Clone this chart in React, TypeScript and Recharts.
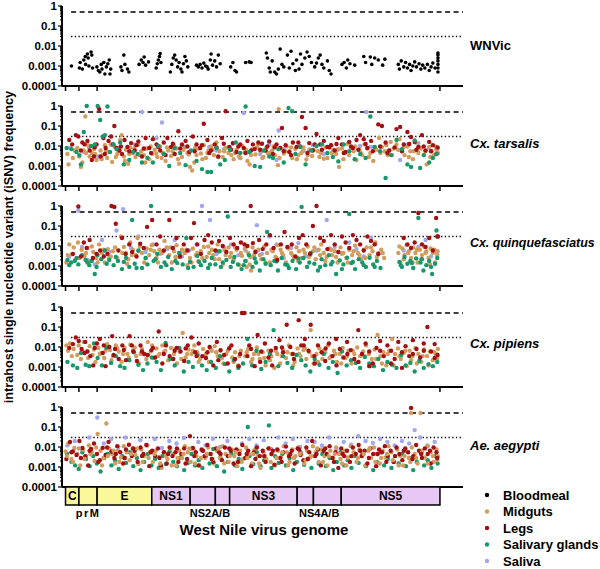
import React from 'react';
import { ScatterChart, Scatter, XAxis, YAxis, ReferenceLine, ReferenceArea } from 'recharts';

// each point: [genome position (nt), iSNV frequency]
type Pt = [number, number];

const genomeLength = 11029;
const geneBounds = [97, 465, 966, 2469, 3525, 4218, 4611, 6468, 6915, 7680, 10395];
const boxLabels = ['C', '', 'E', 'NS1', '', '', 'NS3', '', '', 'NS5'];
const boxColors = ['#fbf89b', '#fbf89b', '#fbf89b', '#e7c8f5', '#e7c8f5', '#e7c8f5', '#e7c8f5', '#e7c8f5', '#e7c8f5', '#e7c8f5'];
const underLabels = ['prM', 'NS2A/B', 'NS4A/B'];
const underFrom = [465, 3525, 6468];
const underTo = [966, 4611, 7680];

const yMajor = [0.0001, 0.001, 0.01, 0.1, 1];
const yTicks = yMajor.slice(0, 4).flatMap((m) => [1, 2, 3, 4, 5, 6, 7, 8, 9].map((k) => k * m)).concat([1]);

const seriesNames = ['Bloodmeal', 'Midguts', 'Legs', 'Salivary glands', 'Saliva'];
const seriesColors = ['#000000', '#d39c5f', '#a30f12', '#17986b', '#a2a8ef'];
const panelNames = ['WNVic', 'Cx. tarsalis', 'Cx. quinquefasciatus', 'Cx. pipiens', 'Ae. aegypti'];

const wnvicBloodmeal: Pt[] = [
  [260,0.001],[480,0.0008],[500,0.0015],[560,0.0007],[600,0.002],[640,0.003],[650,0.0012],[700,0.004],[720,0.0025],[740,0.001],[800,0.005],[820,0.0035],[840,0.0008],
  [960,0.0009],[1000,0.0006],[1040,0.0005],[1080,0.0012],[1100,0.0007],[1150,0.0015],[1180,0.0004],[1220,0.0009],[1260,0.0013],[1300,0.002],[1320,0.0004],[1340,0.0007],
  [1620,0.0009],[1650,0.0006],[1700,0.0035],[1730,0.0012],[1800,0.0007],[1840,0.0005],
  [2120,0.0012],[2180,0.002],[2230,0.0015],[2260,0.0028],[2300,0.0011],[2380,0.0016],
  [2590,0.0008],[2620,0.0013],[2650,0.002],[2680,0.003],[2700,0.0042],[2720,0.0015],
  [2980,0.0005],[3020,0.0012],[3060,0.0025],[3100,0.0035],[3140,0.002],[3180,0.0009],[3220,0.0015],[3270,0.0007],[3300,0.0005],[3340,0.0013],[3380,0.003],[3420,0.0018],[3460,0.0009],
  [3700,0.0011],[3750,0.0009],[3800,0.0012],[3850,0.0008],[3900,0.0014],[3950,0.001],[3990,0.0009],[4020,0.0007],[4080,0.002],[4100,0.004],[4140,0.0011],[4200,0.0018],[4250,0.0009],[4300,0.0035],[4350,0.0013],
  [4640,0.0009],[4700,0.0015],[4760,0.0006],[4800,0.0005],
  [5050,0.0015],[5150,0.0016],[5200,0.0015],
  [5620,0.0045],[5650,0.0025],[5700,0.0008],[5730,0.0005],[5780,0.0018],[5850,0.0005],[5900,0.0004],[5950,0.0007],[6000,0.007],[6050,0.0012],[6100,0.0009],[6200,0.0035],[6250,0.0008],[6300,0.0055],[6350,0.0013],[6420,0.0006],[6450,0.002],
  [6520,0.0007],[6560,0.004],[6600,0.0012],[6680,0.0025],[6740,0.005],[6800,0.003],[6860,0.0015],[6950,0.0009],[7000,0.0014],[7050,0.0025],[7100,0.0035],[7150,0.0012],[7200,0.0008],[7300,0.0018],[7350,0.0006],[7400,0.0004],
  [7700,0.0012],[7760,0.0015],[7820,0.0008],[7860,0.002],[7920,0.0013],[8050,0.0011],
  [8300,0.003],[8350,0.0015],[8480,0.0028],[8520,0.0012],[8600,0.0025],[8700,0.002],[8820,0.0011],[8880,0.0022],
  [9250,0.0012],[9280,0.0007],[9330,0.0018],[9400,0.0009],[9450,0.0015],[9500,0.0008],[9560,0.0012],[9600,0.0006],[9650,0.001],[9700,0.0016],[9750,0.0009],[9820,0.0013],[9870,0.0007],[9920,0.0011],[9980,0.0008],[10050,0.0012],[10100,0.0006],[10150,0.0009],[10200,0.0014],[10260,0.0008],
  [10340,0.0005],[10340,0.0008],[10340,0.0012],[10340,0.0018],[10340,0.0025],[10340,0.0035],[10340,0.0045],
];

const tarsalisMidguts: Pt[] = [
  [150,0.004],[300,0.0025],[420,0.008],[520,0.0009],[560,0.0015],[600,0.006],[640,0.3],[700,0.012],[760,0.003],[820,0.0045],[880,0.007],[950,0.002],[1000,0.9],[1060,0.006],[1120,0.0035],[1180,0.011],[1240,0.0025],[1300,0.005],[1380,0.0016],[1450,0.009],[1520,0.004],[1600,0.02],[1640,0.035],[1700,0.003],[1760,0.0065],[1820,0.0013],[1880,0.0085],[1950,0.0045],[2020,0.0028],[2100,0.012],[2180,0.0055],[2250,0.0035],[2320,0.0075],[2400,0.0022],[2480,0.004],[2550,0.0065],[2620,0.0028],[2700,0.0095],[2780,0.0045],[2850,0.0018],[2920,0.006],[3000,0.0032],[3080,0.011],[3150,0.0075],[3220,0.0013],[3300,0.0028],[3380,0.009],[3450,0.0045],[3520,0.0009],[3580,0.0006],[3640,0.0015],[3700,0.0035],[3760,0.0075],[3820,0.0042],[3900,0.011],[3960,0.0025],[4030,0.006],[4100,0.0095],[4180,0.0035],[4250,0.015],[4330,0.0055],[4420,0.0028],[4500,0.008],[4580,0.0045],[4660,0.0035],[4720,0.0022],[4800,0.0065],[4870,0.003],[4950,0.0105],[5020,0.0048],[5100,0.0018],[5160,0.0012],[5240,0.007],[5320,0.0038],[5400,0.012],[5470,0.0055],[5540,0.0028],[5620,0.0085],[5700,0.0045],[5780,0.006],[5860,0.0035],[5940,0.0011],[5960,0.7],[6020,0.0075],[6100,0.0042],[6180,0.0095],[6260,0.0055],[6330,0.0025],[6420,0.007],[6500,0.0035],[6580,0.0045],[6640,0.0085],[6720,0.0021],[6800,0.0065],[6880,0.0032],[6960,0.0115],[7040,0.0055],[7120,0.0045],[7200,0.0023],[7300,0.0025],[7400,0.011],[7460,0.0065],[7540,0.004],[7620,0.0009],[7700,0.0075],[7780,0.0045],[7860,0.013],[7950,0.0085],[8020,0.0055],[8100,0.002],[8180,0.0065],[8260,0.0035],[8320,0.012],[8400,0.0075],[8480,0.0045],[8560,0.0018],[8640,0.0065],[8720,0.025],[8800,0.009],[8880,0.0055],[8960,0.0035],[9040,0.016],[9120,0.0075],[9200,0.012],[9280,0.022],[9350,0.006],[9420,0.0035],[9500,0.0095],[9580,0.0055],[9650,0.0022],[9720,0.015],[9800,0.0045],[9870,0.0075],[9950,0.0035],[10030,0.0012],[10100,0.009],[10160,0.0055],[10230,0.0035],[10300,0.0065],[10340,0.0045],
];
const tarsalisMoreMidguts: Pt[] = [
  [180,0.0012],[350,0.006],[470,0.003],[660,0.0045],[740,0.009],[910,0.004],[1090,0.0022],[1210,0.006],[1340,0.012],[1480,0.0028],[1560,0.0055],[1730,0.0018],[1850,0.004],[1990,0.0075],[2140,0.0035],[2290,0.0015],[2440,0.0095],[2590,0.0042],[2740,0.0025],[2890,0.0085],[3040,0.0055],[3190,0.0022],[3340,0.0065],[3490,0.0038],[3670,0.0085],[3860,0.0022],[4000,0.0045],[4140,0.0065],[4290,0.0028],[4460,0.0055],[4620,0.0085],[4760,0.0045],[4910,0.0025],[5060,0.0065],[5200,0.0035],[5360,0.0085],[5510,0.0025],[5660,0.0045],[5820,0.0095],[5980,0.0025],[6140,0.0055],[6300,0.0085],[6460,0.0022],[6620,0.0055],[6760,0.0035],[6920,0.0065],[7080,0.0028],[7250,0.0085],[7420,0.0045],[7580,0.0065],[7740,0.0022],[7900,0.0035],[8060,0.0095],[8220,0.0045],[8440,0.0028],[8600,0.0085],[8760,0.0045],[8920,0.011],[9080,0.0035],[9240,0.0065],[9390,0.0085],[9540,0.0028],[9680,0.0055],[9840,0.0085],[9990,0.0055],[10130,0.0028],[10270,0.0095],[10330,0.0075],
];
const tarsalisLegs: Pt[] = [
  [200,0.02],[380,0.035],[450,0.03],[560,0.015],[620,0.012],[700,0.018],[760,0.006],[820,0.002],[880,0.003],[950,0.012],[1020,0.7],[1060,0.003],[1140,0.025],[1200,0.008],[1280,0.018],[1350,0.03],[1440,0.1],[1500,0.008],[1580,0.006],[1650,0.004],[1720,0.02],[1800,0.009],[1900,0.014],[2000,0.006],[2100,0.017],[2200,0.003],[2300,0.025],[2400,0.008],[2500,0.022],[2600,0.012],[2700,0.006],[2800,0.015],[2900,0.025],[3000,0.009],[3100,0.004],[3200,0.055],[3300,0.012],[3400,0.018],[3500,0.005],[3600,0.03],[3700,0.012],[3800,0.008],[3900,0.13],[4000,0.02],[4100,0.006],[4200,0.012],[4300,0.003],[4400,0.025],[4500,0.55],[4600,0.009],[4700,0.014],[4800,0.005],[4900,0.012],[5000,0.008],[5100,0.018],[5200,0.006],[5300,0.007],[5400,0.015],[5500,0.013],[5600,0.006],[5700,0.017],[5800,0.004],[5900,0.012],[6000,0.008],[6050,0.08],[6150,0.011],[6250,0.005],[6350,0.015],[6450,0.009],[6500,0.015],[6600,0.28],[6700,0.08],[6800,0.014],[6900,0.006],[7000,0.04],[7100,0.012],[7200,0.018],[7300,0.009],[7400,0.011],[7500,0.006],[7600,0.025],[7700,0.012],[7800,0.005],[7900,0.016],[8000,0.008],[8100,0.02],[8200,0.035],[8300,0.022],[8400,0.008],[8500,0.018],[8700,0.12],[8800,0.1],[8900,0.015],[9000,0.006],[9200,0.07],[9300,0.09],[9400,0.012],[9500,0.05],[9600,0.028],[9700,0.016],[9800,0.009],[9900,0.035],[10000,0.006],[10100,0.016],[10200,0.011],[10300,0.004],
];
const tarsalisMoreLegs: Pt[] = [
  [280,0.012],[520,0.006],[900,0.0085],[1180,0.004],[1400,0.012],[1620,0.0095],[1850,0.0055],[2050,0.011],[2250,0.0075],[2450,0.0045],[2650,0.009],[2850,0.0035],[3050,0.013],[3250,0.0075],[3450,0.0095],[3650,0.0055],[3850,0.011],[4050,0.0045],[4250,0.0085],[4450,0.013],[4650,0.0065],[4850,0.0095],[5050,0.0045],[5250,0.012],[5450,0.0065],[5650,0.0095],[5850,0.0085],[6100,0.0055],[6300,0.0035],[6550,0.0095],[6750,0.0045],[6950,0.012],[7150,0.0065],[7350,0.0085],[7550,0.0125],[7750,0.0045],[7950,0.0095],[8150,0.0065],[8350,0.0125],[8550,0.0055],[8750,0.0095],[8950,0.0045],[9150,0.0085],[9350,0.0055],[9550,0.0125],[9750,0.0065],[9950,0.0095],[10150,0.0055],[10330,0.0085],
];
const tarsalisSalivary: Pt[] = [
  [130,0.008],[260,0.007],[400,0.005],[480,0.0035],[520,0.0012],[600,0.05],[680,1.0],[800,0.01],[900,0.012],[980,1.0],[1050,0.2],[1120,0.03],[1180,0.035],[1250,0.95],[1320,0.005],[1420,0.012],[1500,0.007],[1600,0.015],[1700,0.0012],[1850,0.002],[1950,0.005],[2080,0.004],[2200,0.0015],[2350,0.0025],[2500,0.0015],[2650,0.01],[2800,0.004],[2950,0.001],[3100,0.008],[3250,0.0045],[3400,0.0011],[3550,0.006],[3700,0.0018],[3850,0.0007],[4000,0.0005],[4100,0.0005],[4250,0.008],[4350,0.0012],[4480,0.002],[4620,0.0065],[4780,0.015],[4900,0.0045],[5050,0.95],[5150,0.005],[5300,0.001],[5450,0.0009],[5550,0.006],[5700,0.003],[5800,0.0025],[5950,0.007],[6100,0.0015],[6230,0.8],[6330,0.55],[6420,0.004],[6550,0.009],[6700,0.0012],[6850,0.006],[7000,0.01],[7150,0.012],[7300,0.0045],[7450,0.0028],[7600,0.0017],[7750,0.012],[7900,0.0055],[8050,0.0022],[8200,0.004],[8350,0.0025],[8480,0.3],[8600,0.009],[8750,0.0055],[8900,0.00025],[9050,0.0035],[9200,0.02],[9350,0.007],[9500,0.0012],[9600,0.0009],[9700,0.019],[9850,0.0008],[9950,0.0035],[10100,0.0015],[10200,0.0025],[10300,0.004],
];
const tarsalisSaliva: Pt[] = [
  [230,0.008],[600,0.005],[1000,0.003],[1350,0.012],[1600,0.009],[2000,0.012],[2200,0.5],[2300,0.007],[2600,0.025],[2750,0.15],[3300,0.009],[3650,0.007],[4050,0.009],[4250,0.006],[4450,0.007],[4700,0.013],[4900,0.0025],[5000,0.45],[5450,0.004],[5700,0.012],[5900,0.002],[5960,0.06],[6100,0.007],[6650,0.006],[6900,0.011],[7200,0.004],[7600,0.007],[7900,0.015],[8200,0.01],[8370,0.5],[8500,0.009],[9000,0.006],[9300,0.002],[9500,0.012],[9800,0.014],[10100,0.008],
];

const quinqMidguts: Pt[] = [
  [120,0.0015],[200,0.012],[280,0.004],[360,0.002],[440,0.015],[540,0.0065],[620,0.003],[700,0.008],[780,0.0018],[860,0.005],[940,0.0025],[1020,0.012],[1100,0.0045],[1180,0.0015],[1260,0.007],[1340,0.003],[1400,0.0055],[1520,0.0025],[1620,0.03],[1700,0.009],[1760,0.0045],[1820,0.0022],[1880,0.015],[1950,0.0065],[2020,0.0035],[2080,0.025],[2140,0.0095],[2200,0.0045],[2260,0.0015],[2330,0.0075],[2400,0.0035],[2470,0.011],[2540,0.0055],[2600,0.0025],[2680,0.0065],[2750,0.0045],[2820,0.018],[2880,0.0085],[2950,0.0035],[3020,0.0015],[3080,0.0055],[3150,0.011],[3220,0.0028],[3300,0.0065],[3380,0.0045],[3450,0.0011],[3520,0.0025],[3600,0.0075],[3680,0.0035],[3750,0.0018],[3820,0.0055],[3900,0.009],[3980,0.0028],[4050,0.0045],[4120,0.0065],[4200,0.0022],[4280,0.012],[4350,0.0055],[4430,0.0013],[4500,0.0035],[4580,0.0085],[4650,0.0045],[4720,0.002],[4800,0.0065],[4880,0.0011],[4950,0.0032],[5030,0.0075],[5080,0.0009],[5120,0.0045],[5160,0.0012],[5200,0.0006],[5240,0.0085],[5280,0.0035],[5330,0.0015],[5400,0.0065],[5480,0.0022],[5560,0.0095],[5640,0.0045],[5720,0.0015],[5800,0.0055],[5870,0.0028],[5940,0.011],[6010,0.0065],[6080,0.0035],[6160,0.0015],[6230,0.0075],[6300,0.0045],[6380,0.0025],[6450,0.0085],[6520,0.0055],[6600,0.0025],[6680,0.0045],[6760,0.0095],[6830,0.0035],[6900,0.0055],[6980,0.0022],[7060,0.0065],[7130,0.012],[7200,0.0045],[7280,0.0028],[7360,0.0075],[7430,0.0035],[7500,0.0055],[7580,0.0015],[7660,0.0085],[7740,0.0045],[7820,0.0025],[7900,0.0065],[7980,0.0035],[8060,0.0105],[8140,0.0045],[8220,0.0022],[8300,0.0065],[8380,0.0085],[8460,0.0035],[8540,0.0055],[8620,0.015],[8700,0.0045],[8780,0.0065],[8860,0.0025],[9250,0.0045],[9300,0.0015],[9360,0.0075],[9420,0.0035],[9480,0.011],[9540,0.0055],[9600,0.0025],[9660,0.0085],[9720,0.0045],[9780,0.0015],[9840,0.0065],[9900,0.0035],[9960,0.0095],[10020,0.0055],[10080,0.0025],[10140,0.0075],[10200,0.0045],[10260,0.0015],[10320,0.0035],
];
const quinqMoreMidguts: Pt[] = [
  [160,0.0035],[320,0.0085],[480,0.0025],[660,0.0045],[820,0.0095],[980,0.0015],[1140,0.0065],[1300,0.0025],[1460,0.0085],[1660,0.0045],[1790,0.0013],[1920,0.0035],[2110,0.0055],[2300,0.0025],[2440,0.0065],[2640,0.0015],[2790,0.0055],[2980,0.0085],[3120,0.0028],[3260,0.0045],[3420,0.0065],[3560,0.0015],[3720,0.0045],[3860,0.0025],[4020,0.0095],[4160,0.0035],[4320,0.0022],[4470,0.0065],[4620,0.0028],[4760,0.0085],[4920,0.0045],[5060,0.0018],[5180,0.0028],[5320,0.0055],[5440,0.0035],[5600,0.0015],[5760,0.0065],[5900,0.0025],[6050,0.0045],[6200,0.0085],[6340,0.0035],[6490,0.0018],[6640,0.0065],[6790,0.0028],[6940,0.0085],[7100,0.0035],[7240,0.0018],[7400,0.0065],[7540,0.0028],[7700,0.0045],[7860,0.0015],[8020,0.0055],[8180,0.0035],[8340,0.0025],[8500,0.0085],[8660,0.0028],[8820,0.0045],[9280,0.0095],[9400,0.0022],[9520,0.0045],[9640,0.0015],[9760,0.0065],[9880,0.0022],[10000,0.0045],[10120,0.0012],[10240,0.0065],[10330,0.0055],
];
const quinqLegs: Pt[] = [
  [300,0.004],[450,0.95],[520,0.003],[600,0.015],[680,0.008],[760,0.02],[850,0.0025],[950,0.004],[1050,0.006],[1150,0.003],[1250,0.004],[1360,1.0],[1440,0.9],[1480,0.13],[1550,0.006],[1650,0.025],[1750,0.004],[1850,0.012],[1930,0.005],[2050,0.003],[2150,0.013],[2250,0.008],[2340,0.09],[2480,0.2],[2600,0.012],[2700,0.03],[2800,0.006],[2950,0.2],[3050,0.008],[3150,0.025],[3250,0.003],[3350,0.012],[3450,0.006],[3550,0.025],[3630,0.14],[3720,0.012],[3820,0.004],[3920,0.02],[4020,0.035],[4120,0.015],[4220,0.006],[4320,0.018],[4420,0.01],[4520,0.005],[4620,0.025],[4720,0.012],[4820,0.008],[4920,0.015],[5020,0.012],[5100,0.01],[5190,1.0],[5250,0.014],[5320,0.005],[5420,0.02],[5520,0.007],[5620,0.012],[5720,0.035],[5820,0.008],[5920,0.002],[6020,0.012],[6120,0.05],[6200,0.009],[6320,0.012],[6420,0.003],[6520,0.025],[6620,0.035],[6720,0.012],[6820,0.004],[6900,0.1],[7000,1.0],[7100,0.025],[7200,0.018],[7300,0.007],[7400,0.035],[7500,0.012],[7600,0.005],[7700,0.03],[7800,0.015],[7900,0.008],[8000,0.035],[8100,0.02],[8200,0.012],[8300,0.006],[8400,0.03],[8500,0.018],[8600,0.012],[8700,0.004],[9400,0.025],[9500,0.012],[9600,0.008],[9700,0.015],[9800,0.45],[9900,0.012],[10000,0.009],[10100,0.025],[10200,0.006],[10290,0.25],[10320,0.03],[10340,0.03],
];
const quinqSalivary: Pt[] = [
  [150,0.002],[250,0.0015],[350,0.0018],[450,0.0012],[550,0.0035],[650,0.002],[750,0.0011],[820,0.0018],[900,0.0004],[980,0.0035],[1080,0.0022],[1180,0.006],[1300,0.002],[1420,0.0011],[1540,0.0018],[1650,0.0007],[1760,0.0025],[1850,0.0009],[1930,0.2],[2000,0.0013],[2100,0.006],[2200,0.0008],[2300,0.0025],[2450,1.0],[2520,0.0018],[2620,0.004],[2720,0.0009],[2820,0.0015],[2920,0.0028],[3020,0.0007],[3120,0.0018],[3220,0.0045],[3320,0.0012],[3420,0.025],[3520,0.0016],[3620,0.0009],[3720,0.0032],[3820,0.0011],[3920,0.0018],[4020,0.0008],[4120,0.0025],[4220,0.0012],[4320,0.0055],[4420,0.0015],[4520,0.002],[4560,0.3],[4640,0.0009],[4740,0.0028],[4840,0.0012],[4940,0.0007],[5040,0.0018],[5140,0.0035],[5240,0.0009],[5340,0.0015],[5440,0.0006],[5540,0.0022],[5640,0.05],[5740,0.0011],[5840,0.0018],[5940,0.0006],[6040,0.0025],[6140,0.0012],[6240,0.0008],[6340,0.0018],[6440,0.0007],[6540,0.0015],[6590,0.9],[6640,0.0025],[6740,0.0009],[6840,0.0045],[6940,0.0013],[7040,0.0006],[7140,0.0022],[7240,0.0011],[7340,0.0035],[7440,0.0016],[7540,0.0004],[7640,0.0019],[7740,0.0012],[7840,0.0026],[7900,0.4],[7960,0.0014],[8060,0.0007],[8160,0.0022],[8260,0.0015],[8360,0.0009],[8460,0.0026],[8560,0.0012],[8660,0.0018],[8760,0.0008],[9280,0.0016],[9350,0.0009],[9420,0.0028],[9500,0.0013],[9580,0.0018],[9660,0.0008],[9740,0.0024],[9800,0.25],[9860,0.0015],[9940,0.0006],[10020,0.0011],[10100,0.0018],[10180,0.0004],[10260,0.0013],[10300,0.06],[10320,0.0025],
];
const quinqMoreSalivary: Pt[] = [
  [200,0.0011],[400,0.0025],[700,0.0015],[950,0.0009],[1230,0.0013],[1480,0.0028],[1700,0.0016],[2050,0.0008],[2350,0.0012],[2570,0.0022],[2870,0.0011],[3170,0.0014],[3470,0.0008],[3770,0.0016],[4070,0.0012],[4370,0.0009],[4700,0.0016],[5000,0.0011],[5300,0.0024],[5600,0.0013],[5900,0.0017],[6200,0.0011],[6500,0.0024],[6800,0.0015],[7100,0.0009],[7400,0.0012],[7700,0.0007],[8000,0.0016],[8300,0.0011],[8600,0.0009],[9320,0.0011],[9620,0.0014],[9900,0.0022],[10150,0.0009],
];
const quinqSaliva: Pt[] = [
  [200,0.003],[450,0.6],[550,0.009],[700,0.002],[900,0.0012],[1100,0.02],[1300,0.005],[1500,0.06],[1680,0.7],[1900,0.008],[2100,0.03],[2300,0.005],[2500,0.012],[2700,0.004],[2900,0.007],[3100,0.02],[3300,0.003],[3500,0.006],[3700,0.012],[3850,1.0],[4070,0.2],[4250,0.004],[4450,0.009],[4650,0.012],[4850,0.0035],[5050,0.006],[5360,0.11],[5500,0.004],[5700,0.03],[5900,0.012],[6100,0.0025],[6300,0.008],[6500,0.014],[6700,0.0032],[7000,0.006],[7280,0.2],[7500,0.009],[7700,0.004],[7900,0.015],[8100,0.007],[8300,0.003],[8500,0.025],[8700,0.004],[9400,0.006],[9600,0.0015],[9800,0.009],[10000,0.02],[10150,0.003],[10300,0.005],
];

const pipiensMidguts: Pt[] = [
  [120,0.012],[220,0.015],[320,0.008],[420,0.004],[520,0.0025],[600,0.018],[680,0.006],[760,0.011],[840,0.004],[920,0.0018],[1000,0.009],[1080,0.005],[1160,0.0028],[1240,0.014],[1320,0.007],[1400,0.0035],[1480,0.012],[1560,0.006],[1640,0.0018],[1720,0.009],[1800,0.0045],[1880,0.013],[1960,0.007],[2040,0.0035],[2120,0.0015],[2200,0.008],[2280,0.0045],[2360,0.018],[2440,0.006],[2520,0.0028],[2600,0.0085],[2680,0.0045],[2760,0.012],[2840,0.0065],[2920,0.0022],[3000,0.009],[3080,0.0045],[3160,0.0015],[3240,0.006],[3320,0.05],[3400,0.003],[3480,0.0075],[3560,0.0045],[3640,0.012],[3720,0.0055],[3800,0.0025],[3880,0.008],[3960,0.0045],[4040,0.0018],[4120,0.0065],[4200,0.011],[4280,0.0035],[4360,0.0065],[4440,0.0015],[4520,0.0045],[4600,0.009],[4680,0.003],[4760,0.0055],[4840,0.0012],[4920,0.0065],[4980,0.5],[5040,0.0035],[5120,0.008],[5200,0.0018],[5280,0.0045],[5360,0.0095],[5440,0.0025],[5520,0.0055],[5600,0.0012],[5680,0.0065],[5760,0.0035],[5840,0.0009],[5920,0.0045],[6000,0.0015],[6080,0.007],[6160,0.0028],[6240,0.012],[6320,0.0045],[6400,0.0018],[6480,0.0085],[6560,0.0035],[6640,0.007],[6720,0.0025],[6800,0.0055],[6840,0.07],[6920,0.0015],[7000,0.0045],[7080,0.0085],[7160,0.0025],[7240,0.0055],[7320,0.012],[7400,0.0035],[7480,0.0065],[7560,0.0018],[7640,0.0045],[7720,0.009],[7800,0.0028],[7880,0.0065],[7960,0.0015],[8040,0.0045],[8120,0.0095],[8200,0.0035],[8280,0.006],[8360,0.012],[8440,0.0045],[8520,0.0025],[8600,0.0075],[8680,0.04],[8760,0.0035],[8840,0.0055],[8920,0.0012],[9000,0.0065],[9080,0.025],[9160,0.0045],[9240,0.0085],[9320,0.0025],[9400,0.005],[9480,0.0011],[9560,0.0065],[9640,0.0035],[9720,0.009],[9800,0.0045],[9880,0.0018],[9960,0.0075],[10040,0.0035],[10120,0.006],[10200,0.0022],[10280,0.0045],[10340,0.008],
];
const pipiensMoreMidguts: Pt[] = [
  [170,0.0065],[270,0.0035],[460,0.012],[560,0.006],[720,0.0028],[880,0.0075],[1040,0.0045],[1200,0.0065],[1360,0.0022],[1520,0.0085],[1680,0.0045],[1840,0.0028],[2000,0.0095],[2160,0.0045],[2320,0.0025],[2480,0.012],[2640,0.0035],[2800,0.0055],[2960,0.0028],[3120,0.0085],[3280,0.0025],[3440,0.0045],[3600,0.0065],[3760,0.0018],[3920,0.0035],[4080,0.0085],[4240,0.0055],[4400,0.0028],[4560,0.0065],[4720,0.0018],[4880,0.0035],[5080,0.0055],[5240,0.0025],[5400,0.0045],[5560,0.0028],[5720,0.0022],[5880,0.0065],[6040,0.0035],[6200,0.0055],[6360,0.0012],[6520,0.0045],[6680,0.0085],[6880,0.0035],[7040,0.0018],[7200,0.0065],[7360,0.0028],[7520,0.0045],[7680,0.0015],[7840,0.0035],[8000,0.0065],[8160,0.0018],[8320,0.0035],[8480,0.0011],[8640,0.0025],[8800,0.0015],[8960,0.0045],[9120,0.0012],[9280,0.0035],[9440,0.0065],[9600,0.0022],[9760,0.0015],[9920,0.0035],[10080,0.0012],[10240,0.0055],[10320,0.0028],
];
const pipiensLegs: Pt[] = [
  [200,0.009],[380,0.03],[460,0.02],[540,0.008],[640,0.018],[700,0.006],[780,0.0035],[860,0.0012],[960,0.015],[1040,0.025],[1120,0.005],[1200,0.0011],[1300,0.01],[1380,0.035],[1460,0.008],[1560,0.0025],[1660,0.012],[1760,0.0022],[1860,0.035],[1960,0.006],[2060,0.002],[2160,0.012],[2260,0.0045],[2360,0.004],[2460,0.007],[2560,0.003],[2660,0.06],[2760,0.0015],[2860,0.012],[2960,0.0035],[3060,0.0025],[3160,0.009],[3260,0.006],[3360,0.002],[3460,0.012],[3560,0.03],[3660,0.0055],[3760,0.015],[3860,0.0035],[3960,0.0028],[4060,0.01],[4160,0.0012],[4260,0.018],[4360,0.007],[4460,0.004],[4560,0.0015],[4660,0.012],[4760,0.0025],[4860,0.0011],[4950,0.5],[5020,0.5],[5100,0.0035],[5200,0.008],[5300,0.0011],[5380,0.04],[5480,0.006],[5580,0.015],[5680,0.003],[5780,0.0012],[5880,0.009],[5980,0.022],[6080,0.0055],[6180,0.13],[6280,0.01],[6380,0.0025],[6510,0.22],[6580,0.012],[6680,0.025],[6780,0.0065],[6840,0.13],[6940,0.0035],[7040,0.012],[7140,0.0055],[7240,0.002],[7340,0.015],[7440,0.0035],[7540,0.025],[7640,0.008],[7740,0.003],[7840,0.018],[7940,0.007],[8040,0.0025],[8150,0.07],[8250,0.0045],[8350,0.015],[8450,0.006],[8550,0.0015],[8650,0.009],[8750,0.02],[8850,0.0035],[8950,0.012],[9050,0.0065],[9150,0.0025],[9250,0.018],[9350,0.0055],[9450,0.011],[9550,0.0035],[9650,0.022],[9750,0.008],[9850,0.003],[9950,0.015],[10050,0.1],[10150,0.006],[10250,0.014],[10330,0.004],
];
const pipiensMoreLegs: Pt[] = [
  [300,0.014],[620,0.005],[900,0.009],[1150,0.012],[1420,0.004],[1700,0.007],[1920,0.012],[2200,0.006],[2500,0.009],[2800,0.0045],[3100,0.0065],[3400,0.0085],[3700,0.0035],[4000,0.0055],[4300,0.0022],[4600,0.0085],[4900,0.0045],[5150,0.012],[5450,0.0018],[5750,0.0065],[6050,0.0095],[6350,0.0045],[6650,0.012],[6950,0.0015],[7250,0.0085],[7550,0.0012],[7850,0.0045],[8150,0.0018],[8450,0.0011],[8750,0.0065],[9050,0.0015],[9350,0.0009],[9650,0.0045],[9950,0.0065],[10250,0.0028],
];
const pipiensSalivary: Pt[] = [
  [150,0.0018],[300,0.0012],[420,0.0009],[520,0.005],[650,0.0013],[750,0.0011],[880,0.015],[980,0.0028],[1100,0.0012],[1220,0.009],[1350,0.0016],[1480,0.0035],[1600,0.0011],[1720,0.0009],[1850,0.0022],[1980,0.0055],[2100,0.0013],[2230,0.0007],[2350,0.0015],[2470,0.003],[2600,0.0018],[2720,0.0007],[2850,0.016],[2980,0.0025],[3100,0.0012],[3230,0.009],[3350,0.0006],[3480,0.0018],[3600,0.001],[3730,0.004],[3850,0.0012],[3980,0.0007],[4100,0.0018],[4230,0.0009],[4350,0.0035],[4480,0.0014],[4600,0.0006],[4730,0.0022],[4850,0.0009],[4980,0.0015],[5100,0.025],[5230,0.0012],[5350,0.0065],[5480,0.0008],[5600,0.0018],[5720,0.0045],[5820,0.07],[5950,0.0011],[6080,0.0035],[6200,0.0016],[6330,0.0009],[6450,0.004],[6580,0.0022],[6700,0.0012],[6830,0.0006],[6950,0.0025],[7080,0.0013],[7200,0.0045],[7330,0.0009],[7450,0.0018],[7580,0.0005],[7700,0.006],[7830,0.0012],[7950,0.0022],[8080,0.0016],[8200,0.0009],[8330,0.0032],[8450,0.0015],[8580,0.0011],[8700,0.0025],[8830,0.0007],[8950,0.0018],[9080,0.0013],[9200,0.0009],[9330,0.004],[9450,0.0012],[9580,0.0016],[9700,0.0006],[9830,0.002],[9950,0.0009],[10080,0.0014],[10200,0.0011],[10320,0.0018],
];
const pipiensSaliva: Pt[] = [];

const aegyptiMidguts: Pt[] = [
  [100,0.006],[180,0.015],[260,0.0025],[340,0.009],[420,0.0045],[500,0.0012],[580,0.0075],[660,0.0035],[740,0.012],[820,0.0055],[900,0.002],[980,0.045],[1060,0.0065],[1140,0.0028],[1220,0.15],[1300,0.0085],[1380,0.0045],[1460,0.0015],[1540,0.0065],[1620,0.003],[1700,0.011],[1780,0.0055],[1860,0.0022],[1940,0.0085],[2020,0.004],[2100,0.0014],[2180,0.0075],[2260,0.0035],[2340,0.012],[2420,0.0055],[2500,0.0018],[2580,0.0065],[2660,0.0032],[2740,0.0009],[2820,0.0055],[2900,0.0025],[2980,0.0085],[3060,0.0045],[3140,0.0012],[3220,0.0065],[3300,0.0028],[3380,0.011],[3460,0.0055],[3540,0.0018],[3620,0.0075],[3700,0.0035],[3780,0.0012],[3860,0.0065],[3940,0.0028],[4020,0.0095],[4100,0.0045],[4180,0.0015],[4260,0.0065],[4340,0.003],[4420,0.011],[4500,0.0045],[4580,0.0018],[4660,0.0075],[4740,0.0035],[4820,0.0011],[4900,0.0065],[4980,0.0025],[5060,0.0095],[5140,0.0045],[5220,0.0015],[5300,0.0075],[5380,0.0035],[5460,0.0009],[5540,0.0055],[5620,0.0025],[5700,0.0085],[5780,0.0045],[5860,0.0012],[5940,0.0065],[6020,0.003],[6100,0.011],[6180,0.0055],[6260,0.0018],[6340,0.0075],[6420,0.0035],[6500,0.0095],[6580,0.0045],[6660,0.0015],[6740,0.0065],[6820,0.003],[6900,0.011],[6980,0.0055],[7060,0.0018],[7140,0.0075],[7220,0.0035],[7300,0.0012],[7380,0.0065],[7460,0.0028],[7540,0.0095],[7620,0.0045],[7700,0.0015],[7780,0.0065],[7860,0.003],[7940,0.011],[8020,0.0055],[8100,0.0018],[8180,0.0075],[8260,0.0035],[8340,0.0012],[8420,0.0065],[8500,0.0028],[8580,0.0095],[8660,0.0045],[8740,0.0015],[8820,0.0065],[8900,0.003],[8980,0.011],[9060,0.0055],[9140,0.0018],[9220,0.0075],[9300,0.0035],[9380,0.0012],[9460,0.0065],[9540,0.0028],[9600,0.5],[9620,0.0095],[9700,0.0045],[9780,0.0015],[9860,0.5],[9900,0.0065],[9980,0.003],[10060,0.011],[10140,0.0055],[10220,0.0018],[10300,0.0075],[10340,0.0035],
];
const aegyptiMoreMidguts: Pt[] = [
  [140,0.0035],[300,0.0018],[460,0.0085],[620,0.0025],[780,0.0045],[940,0.0095],[1100,0.0012],[1260,0.0035],[1420,0.0065],[1580,0.0018],[1740,0.0028],[1900,0.0045],[2060,0.0085],[2220,0.0018],[2380,0.0028],[2540,0.0045],[2700,0.0015],[2860,0.0035],[3020,0.0012],[3180,0.0028],[3340,0.0045],[3500,0.0085],[3660,0.0015],[3820,0.0028],[3980,0.0045],[4140,0.0025],[4300,0.0085],[4460,0.0015],[4620,0.0035],[4780,0.0055],[4940,0.0018],[5100,0.0028],[5260,0.0045],[5420,0.0015],[5580,0.0035],[5740,0.0018],[5900,0.0028],[6060,0.0055],[6220,0.0012],[6380,0.0028],[6540,0.0045],[6700,0.0022],[6860,0.0035],[7020,0.0085],[7180,0.0018],[7340,0.0035],[7500,0.0045],[7660,0.0025],[7820,0.0012],[7980,0.0035],[8140,0.0028],[8300,0.0045],[8460,0.0085],[8620,0.0018],[8780,0.0028],[8940,0.0045],[9100,0.0022],[9260,0.0012],[9420,0.0035],[9580,0.0018],[9740,0.0028],[9900,0.0055],[10060,0.0015],[10200,0.0035],[10320,0.0022],
];
const aegyptiLegs: Pt[] = [
  [120,0.0025],[220,0.018],[300,0.006],[400,0.004],[480,0.02],[560,0.009],[640,0.0035],[720,0.0012],[800,0.008],[880,0.015],[960,0.0045],[1040,0.0022],[1120,0.009],[1200,0.004],[1280,0.018],[1360,0.006],[1440,0.0028],[1520,0.011],[1600,0.0055],[1680,0.0015],[1760,0.0075],[1840,0.013],[1920,0.0035],[2000,0.0065],[2080,0.0018],[2160,0.0095],[2240,0.0045],[2320,0.0125],[2400,0.0011],[2480,0.0065],[2560,0.0035],[2640,0.0085],[2720,0.0012],[2800,0.0055],[2880,0.0015],[2960,0.0095],[3040,0.0035],[3120,0.0055],[3200,0.0018],[3280,0.0045],[3360,0.0085],[3440,0.0025],[3520,0.035],[3600,0.009],[3680,0.0055],[3760,0.0012],[3840,0.0075],[3920,0.0035],[4000,0.0125],[4080,0.0045],[4160,0.0018],[4240,0.0085],[4320,0.0055],[4400,0.0022],[4480,0.0095],[4560,0.0035],[4640,0.0065],[4720,0.0015],[4800,0.0075],[4880,0.0045],[4960,0.0125],[5040,0.0028],[5120,0.0065],[5200,0.0011],[5280,0.0055],[5360,0.0095],[5440,0.0035],[5520,0.0065],[5600,0.0018],[5680,0.0085],[5760,0.0045],[5840,0.0013],[5920,0.0075],[6000,0.0028],[6080,0.0055],[6160,0.0105],[6240,0.0035],[6320,0.0065],[6400,0.0015],[6480,0.0085],[6560,0.004],[6640,0.0022],[6720,0.0095],[6800,0.0055],[6880,0.02],[6960,0.0035],[7040,0.0075],[7120,0.0012],[7200,0.0065],[7280,0.0045],[7360,0.011],[7440,0.0028],[7520,0.0055],[7600,0.0009],[7680,0.0085],[7760,0.0035],[7840,0.0065],[7920,0.0018],[8000,0.0095],[8080,0.0045],[8160,0.0125],[8240,0.0035],[8320,0.0065],[8400,0.0015],[8480,0.0085],[8560,0.0045],[8640,0.0011],[8720,0.0075],[8800,0.0055],[8880,0.011],[8960,0.0035],[9040,0.0065],[9120,0.0018],[9200,0.0095],[9280,0.0045],[9360,0.0022],[9440,0.0085],[9520,0.0055],[9600,0.9],[9660,0.0035],[9740,0.0125],[9820,0.0065],[9900,0.0028],[9980,0.0085],[10060,0.0045],[10140,0.0015],[10220,0.0095],[10300,0.0055],
];
const aegyptiMoreLegs: Pt[] = [
  [260,0.0055],[520,0.0028],[760,0.0065],[1000,0.0018],[1240,0.0095],[1480,0.0045],[1720,0.0028],[1960,0.0085],[2200,0.0035],[2440,0.0055],[2680,0.0028],[2920,0.0045],[3160,0.0085],[3400,0.0015],[3640,0.0035],[3880,0.0065],[4120,0.0025],[4360,0.0045],[4600,0.0085],[4840,0.0018],[5080,0.0045],[5320,0.0025],[5560,0.0035],[5800,0.0065],[6040,0.0018],[6280,0.0045],[6520,0.0075],[6760,0.0025],[7000,0.0045],[7240,0.0085],[7480,0.0018],[7720,0.0045],[7960,0.0035],[8200,0.0065],[8440,0.0028],[8680,0.0045],[8920,0.0018],[9160,0.0035],[9400,0.0065],[9640,0.0025],[9880,0.0045],[10120,0.0065],[10320,0.0028],
];
const aegyptiSalivary: Pt[] = [
  [140,0.0045],[260,0.0018],[360,0.0012],[460,0.0008],[560,0.0055],[660,0.0025],[760,0.0011],[860,0.0035],[960,0.0015],[1060,0.0006],[1160,0.0028],[1260,0.0045],[1360,0.0012],[1460,0.0022],[1560,0.0008],[1660,0.0035],[1760,0.0016],[1860,0.0055],[1960,0.0011],[2060,0.0028],[2160,0.0007],[2260,0.0018],[2360,0.0045],[2460,0.0012],[2560,0.0025],[2660,0.0009],[2760,0.0035],[2860,0.0014],[2960,0.006],[3060,0.0018],[3160,0.0011],[3260,0.0028],[3360,0.0007],[3460,0.0016],[3560,0.0045],[3660,0.0012],[3760,0.0022],[3860,0.0009],[3960,0.0035],[4060,0.0015],[4160,0.008],[4260,0.0011],[4360,0.0028],[4460,0.0006],[4560,0.0018],[4660,0.0045],[4760,0.0012],[4860,0.0025],[4960,0.0008],[5110,0.1],[5160,0.0035],[5260,0.0014],[5360,0.0055],[5460,0.0011],[5560,0.0022],[5690,0.12],[5760,0.0009],[5860,0.0035],[5960,0.0016],[6060,0.0045],[6160,0.0012],[6260,0.0028],[6360,0.0007],[6460,0.0018],[6560,0.0055],[6660,0.0013],[6760,0.0025],[6860,0.0009],[6960,0.0035],[7060,0.0015],[7160,0.0045],[7260,0.0011],[7360,0.0028],[7460,0.0007],[7560,0.0018],[7660,0.0055],[7760,0.0012],[7860,0.0022],[7960,0.0009],[8060,0.0035],[8160,0.0016],[8260,0.0045],[8360,0.0011],[8460,0.0028],[8560,0.0007],[8660,0.0018],[8760,0.0055],[8860,0.0012],[8960,0.0025],[9060,0.0009],[9160,0.0035],[9260,0.0015],[9360,0.0045],[9460,0.0011],[9560,0.0028],[9660,0.0007],[9760,0.0018],[9860,0.0055],[9960,0.0012],[10060,0.0022],[10160,0.0009],[10260,0.0035],[10330,0.0015],
];
const aegyptiSaliva: Pt[] = [
  [150,0.012],[350,0.02],[550,0.008],[750,0.03],[970,0.3],[1150,0.015],[1350,0.025],[1550,0.01],[1750,0.03],[1950,0.006],[2150,0.022],[2350,0.012],[2550,0.025],[2750,0.009],[2950,0.02],[3150,0.015],[3350,0.028],[3550,0.008],[3750,0.018],[3950,0.012],[4150,0.026],[4350,0.01],[4550,0.02],[4750,0.007],[4950,0.015],[5150,0.025],[5350,0.012],[5550,0.022],[5750,0.008],[5950,0.03],[6150,0.015],[6350,0.025],[6550,0.01],[6750,0.02],[6950,0.018],[7150,0.012],[7350,0.03],[7550,0.008],[7750,0.018],[7950,0.013],[8150,0.035],[8350,0.02],[8550,0.016],[8750,0.025],[8950,0.018],[9150,0.012],[9350,0.02],[9550,0.015],[9700,0.07],[9850,0.03],[10050,0.012],[10250,0.018],
];

// per panel, series in draw order: [seriesIndex, points]
const panels: [number, Pt[]][][] = [
  [[0, wnvicBloodmeal]],
  [[4, tarsalisSaliva], [1, tarsalisMidguts], [1, tarsalisMoreMidguts], [2, tarsalisLegs], [2, tarsalisMoreLegs], [3, tarsalisSalivary]],
  [[4, quinqSaliva], [1, quinqMidguts], [1, quinqMoreMidguts], [3, quinqSalivary], [3, quinqMoreSalivary], [2, quinqLegs]],
  [[4, pipiensSaliva], [1, pipiensMidguts], [1, pipiensMoreMidguts], [3, pipiensSalivary], [2, pipiensLegs], [2, pipiensMoreLegs]],
  [[4, aegyptiSaliva], [3, aegyptiSalivary], [1, aegyptiMidguts], [2, aegyptiLegs], [1, aegyptiMoreMidguts], [2, aegyptiMoreLegs]],
];

const FONT = '"Liberation Sans", Arial, sans-serif';
const panelTops = [6, 106, 206, 307, 407];
const CHART_W = 470;
const PLOT_H = 80;

function YTick(props: any) {
  const { x, y, payload } = props;
  const v = payload.value;
  const major = yMajor.some((m) => Math.abs(m - v) / m < 1e-6);
  return (
    <g>
      <line x1={x} x2={x - (major ? 4 : 2)} y1={y} y2={y} stroke="#000" strokeWidth={1.2} />
      {major && (
        <text x={x - 5} y={y} dy="0.36em" textAnchor="end" fontSize={11.5} fontWeight="bold" fontFamily={FONT} fill="#000">
          {String(v)}
        </text>
      )}
    </g>
  );
}

function Panel({ index }: { index: number }) {
  const last = index === panels.length - 1;
  return (
    <div style={{ position: 'absolute', left: 0, top: panelTops[index] - 6 }}>
      <ScatterChart width={CHART_W} height={6 + PLOT_H + 8} margin={{ top: 6, right: 7, bottom: 0, left: 0 }}>
        <XAxis
          dataKey="x"
          type="number"
          domain={[0, genomeLength]}
          ticks={geneBounds}
          interval={0}
          height={8}
          tickSize={last ? 0 : 5}
          tickFormatter={() => ''}
          axisLine={{ stroke: '#000', strokeWidth: 2 }}
          tickLine={last ? false : { stroke: '#000', strokeWidth: 1.5 }}
        />
        <YAxis
          dataKey="y"
          type="number"
          scale="log"
          domain={[0.0001, 1]}
          ticks={yTicks}
          interval={0}
          width={62}
          tickSize={0}
          tickMargin={0}
          tickLine={false}
          tick={<YTick />}
          axisLine={{ stroke: '#000', strokeWidth: 2 }}
        />
        <ReferenceLine segment={[{ x: 250, y: 0.5 }, { x: genomeLength, y: 0.5 }]} stroke="#000" strokeWidth={1.6} strokeDasharray="5 3.5" />
        <ReferenceLine segment={[{ x: 250, y: 0.03 }, { x: genomeLength, y: 0.03 }]} stroke="#000" strokeWidth={1.6} strokeDasharray="1.3 2.4" />
        {panels[index].map(([s, pts], k) => (
          <Scatter
            key={k}
            name={seriesNames[s]}
            data={pts.map(([x, y]) => ({ x, y }))}
            isAnimationActive={false}
            shape={(p: any) => <circle cx={p.cx} cy={p.cy} r={s === 0 ? 1.8 : 2.2} fill={seriesColors[s]} />}
          />
        ))}
      </ScatterChart>
    </div>
  );
}

function GenomeMap() {
  // two invisible corner anchors only fix the scales of this strip
  const anchors = [{ x: 0, y: 0 }, { x: genomeLength, y: 1 }];
  return (
    <div style={{ position: 'absolute', left: 0, top: 486 }}>
      <ScatterChart width={CHART_W} height={41} margin={{ top: 1, right: 7, bottom: 22, left: 62 }}>
        <XAxis dataKey="x" type="number" domain={[0, genomeLength]} hide />
        <YAxis dataKey="y" type="number" domain={[0, 1]} hide />
        <Scatter data={anchors} isAnimationActive={false} shape={() => <g />} />
        {boxLabels.map((label, i) => (
          <ReferenceArea
            key={i}
            x1={geneBounds[i]}
            x2={geneBounds[i + 1]}
            y1={0}
            y2={1}
            fill={boxColors[i]}
            fillOpacity={1}
            stroke="#000"
            strokeWidth={1.5}
            ifOverflow="visible"
            label={label ? { value: label, position: 'center', fontSize: 12, fontWeight: 'bold', fill: '#000', fontFamily: FONT } : undefined}
          />
        ))}
        {underLabels.map((label, i) => (
          <ReferenceArea
            key={'u' + i}
            x1={underFrom[i]}
            x2={underTo[i]}
            y1={0}
            y2={1}
            fill="none"
            fillOpacity={0}
            stroke="none"
            ifOverflow="visible"
            label={{ value: label, position: 'bottom', offset: 4, fontSize: 11, fontWeight: 'bold', fill: '#000', fontFamily: FONT, letterSpacing: label === 'prM' ? 1.5 : 0 }}
          />
        ))}
      </ScatterChart>
    </div>
  );
}

export default function App() {
  const labelY = [45, 143, 243, 343, 445];
  const legendY = [495, 511.5, 528, 544.5, 561];
  return (
    <div style={{ position: 'absolute', left: 0, top: 0, width: 600, height: 569, background: '#fff', fontFamily: FONT }}>
      {panels.map((_, i) => (
        <Panel key={i} index={i} />
      ))}
      <GenomeMap />
      <svg width={600} height={569} style={{ position: 'absolute', left: 0, top: 0, pointerEvents: 'none' }} fontFamily={FONT}>
        <text transform="translate(9, 247) rotate(-90)" textAnchor="middle" dy="0.35em" fontSize={12.7} fontWeight="bold" fill="#000">
          intrahost single nucleotide variant (iSNV) frequency
        </text>
        {panelNames.map((name, i) => (
          <text
            key={name}
            x={470}
            y={labelY[i]}
            dy="0.35em"
            fontSize={i === 2 ? 12.4 : 13}
            fontWeight="bold"
            fontStyle={i === 0 ? 'normal' : 'italic'}
            fill="#000"
          >
            {name}
          </text>
        ))}
        <text x={264} y={530} textAnchor="middle" dy="0.35em" fontSize={15} fontWeight="bold" fill="#000">
          West Nile virus genome
        </text>
        {seriesNames.map((name, i) => (
          <g key={name}>
            <circle cx={487} cy={legendY[i]} r={2.2} fill={seriesColors[i]} />
            <text x={503} y={legendY[i]} dy="0.35em" fontSize={13} fontWeight="bold" fill="#000">
              {name}
            </text>
          </g>
        ))}
      </svg>
    </div>
  );
}
